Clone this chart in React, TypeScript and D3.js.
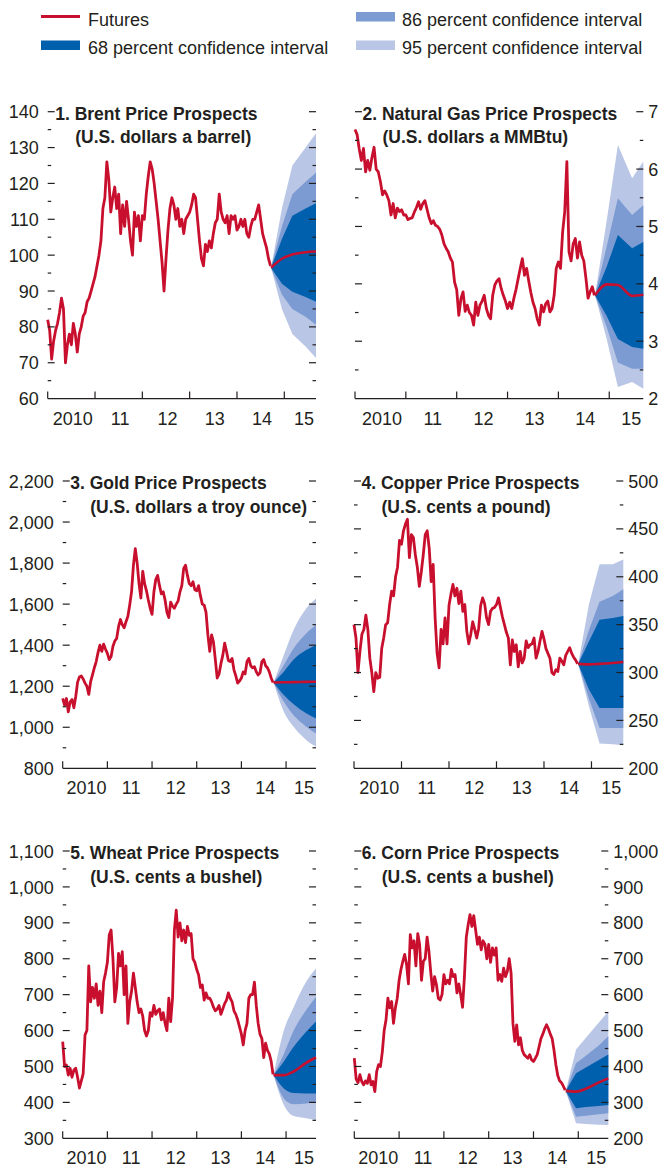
import React from "react";
import * as d3 from "d3";

// ---------- shared time axis ----------
const T0 = 2010;
const T1 = 2015.67;
const yearTicks = [2010, 2011, 2012, 2013, 2014, 2015];
const yearLabels = ["2010", "11", "12", "13", "14", "15"];
// forecast horizon dates (decimal years)
const fcDates = [2014.72, 2014.95, 2015.17, 2015.45, 2015.67];

// ---------- 1. Brent (semi-monthly from Jan 2010) ----------
const brentHist = [
  82, 79, 71, 76, 79, 81, 84, 88, 85, 70,
  75, 78, 75, 81, 78, 73, 78, 80, 83, 84,
  87, 88, 90, 92, 94, 97, 100, 104, 113, 116,
  126, 121, 112, 116, 119, 113, 117, 106, 114, 108,
  115, 110, 104, 100, 112, 108, 111, 104, 111, 110,
  117, 122, 126, 124, 120, 115, 110, 104, 98, 90,
  99, 107, 113, 116, 114, 110, 113, 108, 110, 106,
  110, 111, 112, 114, 117, 116, 110, 104, 99, 97,
  103, 101, 104, 102, 106, 109, 110, 117, 112, 110,
  109, 111, 106, 111, 110, 111, 107, 108, 110, 108,
  110, 106, 105, 108, 110, 110, 112, 114, 110, 106,
  104, 102, 99, 97,
];
const brentFutures = [96.5, 99, 100.2, 100.8, 101];
const brentBand68 = [[96.5, 96.5], [92, 104.5], [89.8, 111], [88.3, 113], [87, 114.5]];
const brentBand86 = [[96.5, 96.5], [89, 108], [85, 117], [82.8, 120.5], [80.6, 123]];
const brentBand95 = [[96.5, 96.5], [85, 113], [78, 125], [74.5, 130], [71.3, 134]];

// ---------- 2. Natural gas ----------
const gasHist = [
  6.69, 6.6, 6.35, 6.15, 6.36, 5.95, 6.15, 5.98, 6.2, 6.38,
  6.0, 5.95, 5.78, 5.55, 5.62, 5.55, 5.45, 5.2, 5.4, 5.15,
  5.32, 5.26, 5.29, 5.2, 5.2, 5.12, 5.14, 5.15, 5.25, 5.33,
  5.43, 5.3, 5.4, 5.45, 5.3, 5.15, 5.05, 5.1, 5.02, 5.0,
  4.95, 4.85, 4.7, 4.62, 4.56, 4.45, 4.38, 4.03, 3.9, 3.45,
  3.74, 3.86, 3.52, 3.63, 3.5, 3.45, 3.28, 3.68, 3.45, 3.63,
  3.7, 3.8, 3.57, 3.45, 3.39, 3.8, 3.98, 4.05, 4.09, 3.92,
  3.8, 3.7, 3.57, 3.68, 3.57, 3.75, 3.9, 4.09, 4.27, 4.44,
  4.15, 4.27, 4.05, 3.85, 3.68, 3.57, 3.39, 3.28, 3.63, 3.51,
  3.65, 3.7, 3.51, 3.57, 3.8, 4.27, 4.38, 4.27, 4.9, 5.26,
  6.13, 4.56, 4.4, 4.7, 4.79, 4.45, 4.73, 4.5, 4.4, 4.1,
  3.75, 3.86, 3.95, 3.8,
];
const gasFutures = [3.8, 3.99, 3.98, 3.79, 3.81];
const gasBand68 = [[3.8, 3.8], [3.44, 4.3], [3.04, 4.85], [2.9, 4.62], [2.87, 4.73]];
const gasBand86 = [[3.8, 3.8], [3.25, 4.65], [2.63, 5.49], [2.52, 5.2], [2.52, 5.37]];
const gasBand95 = [[3.8, 3.8], [3.04, 5.1], [2.2, 6.42], [2.29, 5.84], [2.17, 6.13]];

// ---------- 3. Gold ----------
const goldHist = [
  1141, 1108, 1140, 1075, 1124, 1135, 1095, 1150, 1220, 1245,
  1250, 1235, 1215, 1200, 1160, 1222, 1255, 1290, 1320, 1365,
  1400, 1370, 1405, 1380, 1360, 1330, 1345, 1395, 1420, 1433,
  1490, 1525, 1500, 1485, 1514, 1540, 1596, 1661, 1790, 1870,
  1800, 1700, 1630, 1760, 1700, 1665, 1620, 1580, 1550, 1660,
  1720, 1740, 1690, 1650, 1660, 1620, 1560, 1535, 1610, 1590,
  1580, 1600, 1615, 1660, 1690, 1774, 1790, 1740, 1700, 1690,
  1709, 1670, 1665, 1690, 1640, 1600, 1595, 1560, 1450, 1370,
  1450, 1415, 1330, 1240, 1260, 1310, 1350, 1410, 1370, 1325,
  1320, 1335, 1280, 1250, 1215, 1225, 1240, 1270, 1260, 1320,
  1335, 1300, 1290, 1295, 1270, 1255, 1265, 1320, 1330, 1300,
  1290, 1270, 1240, 1218,
];
const goldFutures = [1218, 1219, 1220, 1221, 1222];
const goldBand68 = [[1218, 1218], [1157, 1271], [1112, 1330], [1068, 1376], [1043, 1401]];
const goldBand86 = [[1218, 1218], [1124, 1303], [1058, 1385], [1003, 1457], [970, 1498]];
const goldBand95 = [[1218, 1218], [1076, 1352], [1002, 1475], [938, 1579], [905, 1628]];

// ---------- 4. Copper ----------
const copperHist = [
  350, 336, 300, 322, 340, 345, 360, 345, 315, 300,
  280, 300, 294, 295, 325, 336, 350, 352, 371, 385,
  380, 400, 410, 438, 434, 448, 455, 460, 420, 444,
  441, 423, 410, 390, 405, 423, 444, 448, 430, 395,
  413, 357, 320, 305, 345, 330, 357, 330, 370, 382,
  392, 380, 388, 372, 385, 364, 371, 343, 330, 340,
  353, 345, 336, 346, 370, 378, 372, 357, 350, 364,
  367, 368, 371, 378, 368, 358, 350, 342, 336, 308,
  334, 322, 329, 306, 322, 310, 315, 333, 326, 329,
  330, 336, 315, 322, 333, 343, 335, 325, 320, 315,
  300, 298, 303, 301, 315, 312, 308, 318, 322, 326,
  320, 316, 313, 309,
];
const copperFutures = [309, 308.5, 309, 310, 311];
const copperBand68 = [[309, 309], [282, 333], [263, 355], [263, 357], [263, 359]];
const copperBand86 = [[309, 309], [272, 345], [242, 374], [242, 380], [242, 387]];
const copperBand95 = [[309, 309], [264, 372], [226, 413], [225, 413], [224, 418]];

// ---------- 5. Wheat ----------
const wheatHist = [
  569, 500, 504, 476, 495, 470, 490, 495, 470, 440,
  460, 480, 588, 600, 780, 680, 720, 690, 730, 670,
  710, 650, 736, 760, 790, 866, 880, 800, 680, 720,
  815, 780, 820, 700, 780, 620, 680, 710, 760, 720,
  680, 650, 660, 640, 600, 585, 600, 650, 640, 670,
  645, 655, 660, 630, 650, 620, 600, 690, 625, 690,
  880, 935, 860, 900, 850, 880, 845, 890, 865, 870,
  800, 790, 770, 755, 720, 727, 685, 705, 690, 690,
  680, 665, 655, 660, 670, 645, 660, 675, 685, 705,
  690, 680, 655, 645, 630, 610, 590, 560, 600, 620,
  690, 700, 700, 735, 670, 620, 590, 578, 525, 565,
  545, 535, 514, 478,
];
const wheatFutures = [476, 476, 486, 510, 525];
const wheatBand68 = [[476, 476], [439, 514], [426, 555], [425, 597], [425, 625]];
const wheatBand86 = [[476, 476], [411, 535], [395, 600], [397, 657], [402, 694]];
const wheatBand95 = [[476, 476], [393, 600], [362, 665], [356, 736], [351, 773]];

// ---------- 6. Corn ----------
const cornHist = [
  423, 365, 355, 377, 358, 349, 360, 353, 377, 349,
  358, 330, 386, 405, 400, 440, 500, 530, 590, 563,
  581, 520, 563, 590, 640, 670, 693, 712, 684, 630,
  767, 730, 750, 680, 770, 740, 640, 693, 700, 760,
  720, 660, 610, 650, 628, 590, 585, 600, 656, 630,
  640, 630, 670, 650, 656, 605, 630, 600, 565, 650,
  760, 795, 823, 790, 820, 780, 740, 760, 725, 750,
  740, 700, 740, 690, 730, 710, 730, 640, 656, 637,
  674, 650, 665, 700, 660, 520, 470, 516, 460, 480,
  445, 433, 428, 423, 433, 418, 414, 423, 433, 455,
  478, 490, 505, 516, 505, 490, 478, 445, 405, 375,
  360, 355, 345, 334,
];
const cornFutures = [332, 330, 338, 355, 367];
const cornBand68 = [[332, 332], [284, 381], [287, 397], [290, 417], [293, 433]];
const cornBand86 = [[332, 332], [260, 409], [263, 430], [267, 458], [270, 484]];
const cornBand95 = [[332, 332], [242, 447], [240, 480], [238, 521], [237, 553]];

// ---------- legend ----------
const legendLabels = [
  "Futures",
  "68 percent confidence interval",
  "86 percent confidence interval",
  "95 percent confidence interval",
];

// ---------- styles ----------
const FONT = "'Liberation Sans', Arial, Helvetica, sans-serif";
const INK = "#231f20";
const RED = "#c8102e";
const C68 = "#0060ae";
const C86 = "#7b9bd2";
const C95 = "#b9c6e6";

type PanelCfg = {
  title: string;
  unit: string;
  hist: number[];
  fut: number[];
  b68: number[][];
  b86: number[][];
  b95: number[][];
  domain: [number, number];
  step: number;
  side: "left" | "right";
  x0: number;
  x1: number;
  yTop: number;
  yBot: number;
  smooth: boolean;
};

const ROW1 = [111.7, 398.6];
const ROW2 = [481, 768.3];
const ROW3 = [851, 1138.3];

const panels: PanelCfg[] = [
  { title: "1. Brent Price Prospects", unit: "(U.S. dollars a barrel)", hist: brentHist, fut: brentFutures,
    b68: brentBand68, b86: brentBand86, b95: brentBand95, domain: [60, 140], step: 10, side: "left",
    x0: 47.7, x1: 316, yTop: ROW1[0], yBot: ROW1[1], smooth: false },
  { title: "2. Natural Gas Price Prospects", unit: "(U.S. dollars a MMBtu)", hist: gasHist, fut: gasFutures,
    b68: gasBand68, b86: gasBand86, b95: gasBand95, domain: [2, 7], step: 1, side: "right",
    x0: 355, x1: 643.3, yTop: ROW1[0], yBot: ROW1[1], smooth: false },
  { title: "3. Gold Price Prospects", unit: "(U.S. dollars a troy ounce)", hist: goldHist, fut: goldFutures,
    b68: goldBand68, b86: goldBand86, b95: goldBand95, domain: [800, 2200], step: 200, side: "left",
    x0: 62.7, x1: 316, yTop: ROW2[0], yBot: ROW2[1], smooth: true },
  { title: "4. Copper Price Prospects", unit: "(U.S. cents a pound)", hist: copperHist, fut: copperFutures,
    b68: copperBand68, b86: copperBand86, b95: copperBand95, domain: [200, 500], step: 50, side: "right",
    x0: 354, x1: 623.3, yTop: ROW2[0], yBot: ROW2[1], smooth: false },
  { title: "5. Wheat Price Prospects", unit: "(U.S. cents a bushel)", hist: wheatHist, fut: wheatFutures,
    b68: wheatBand68, b86: wheatBand86, b95: wheatBand95, domain: [300, 1100], step: 100, side: "left",
    x0: 62.7, x1: 316, yTop: ROW3[0], yBot: ROW3[1], smooth: true },
  { title: "6. Corn Price Prospects", unit: "(U.S. cents a bushel)", hist: cornHist, fut: cornFutures,
    b68: cornBand68, b86: cornBand86, b95: cornBand95, domain: [200, 1000], step: 100, side: "right",
    x0: 354.3, x1: 608.3, yTop: ROW3[0], yBot: ROW3[1], smooth: false },
];

const fmt = d3.format(",");

function Panel({ p }: { p: PanelCfg }) {
  const x = d3.scaleLinear().domain([T0, T1]).range([p.x0, p.x1]);
  const y = d3.scaleLinear().domain(p.domain).range([p.yBot, p.yTop]);
  const [lo, hi] = p.domain;
  const majors = d3.range(lo + p.step, hi + p.step / 2, p.step);
  const minors = d3.range(lo + p.step / 2, hi, p.step);
  const curve = p.smooth ? d3.curveMonotoneX : d3.curveLinear;

  const histLine = d3
    .line<number>()
    .x((_, i) => x(T0 + i / 24))
    .y((v) => y(v));
  const band = d3
    .area<number[]>()
    .x((_, i) => x(fcDates[i]))
    .y0((d) => y(d[0]))
    .y1((d) => y(d[1]))
    .curve(curve);
  const futLine = d3
    .line<number>()
    .x((_, i) => x(fcDates[i]))
    .y((v) => y(v))
    .curve(d3.curveMonotoneX);

  const MAJ = 7;
  const MIN = 3.5;
  const labelX = p.side === "left" ? p.x0 - 9 : p.x1 + 5;
  const anchor = p.side === "left" ? "end" : "start";

  return (
    <g>
      {/* fan chart */}
      <path d={band(p.b95) || ""} fill={C95} />
      <path d={band(p.b86) || ""} fill={C86} />
      <path d={band(p.b68) || ""} fill={C68} />
      {/* history */}
      <path d={histLine(p.hist) || ""} fill="none" stroke={RED} strokeWidth={2.8} strokeLinejoin="round" />
      <path d={futLine(p.fut) || ""} fill="none" stroke={RED} strokeWidth={2.6} />

      {/* y ticks both sides */}
      {majors.map((v) => (
        <g key={"M" + v}>
          <line x1={p.x0} x2={p.x0 + MAJ} y1={y(v)} y2={y(v)} stroke={INK} strokeWidth={1.2} />
          <line x1={p.x1 - MAJ} x2={p.x1} y1={y(v)} y2={y(v)} stroke={INK} strokeWidth={1.2} />
        </g>
      ))}
      {minors.map((v) => (
        <g key={"m" + v}>
          <line x1={p.x0} x2={p.x0 + MIN} y1={y(v)} y2={y(v)} stroke={INK} strokeWidth={1.2} />
          <line x1={p.x1 - MIN} x2={p.x1} y1={y(v)} y2={y(v)} stroke={INK} strokeWidth={1.2} />
        </g>
      ))}
      {/* y labels on outer side */}
      {[lo, ...majors].map((v) => (
        <text key={"l" + v} x={labelX} y={y(v) + 6.6} textAnchor={anchor} fontSize={18} fill={INK}>
          {fmt(v)}
        </text>
      ))}

      {/* x axis */}
      <line x1={p.x0} x2={p.x1} y1={p.yBot} y2={p.yBot} stroke={INK} strokeWidth={1.3} />
      {yearTicks.map((yr, i) => (
        <g key={"y" + yr}>
          <line x1={x(yr)} x2={x(yr)} y1={p.yBot} y2={p.yBot - 7} stroke={INK} strokeWidth={1.2} />
          <text
            x={Math.min(x(yr + 0.5) + 1.5, p.x1 - 12)}
            y={p.yBot + 26}
            textAnchor="middle"
            fontSize={18}
            fill={INK}
          >
            {yearLabels[i]}
          </text>
        </g>
      ))}

      {/* title */}
      <text x={p.x0 + 7.5} y={p.yTop + 8.3} fontSize={17.5} fontWeight="bold" fill={INK}>
        {p.title}
      </text>
      <text x={p.x0 + 27.5} y={p.yTop + 31.5} fontSize={17.5} fontWeight="bold" fill={INK}>
        {p.unit}
      </text>
    </g>
  );
}

function Legend() {
  return (
    <g fontSize={18} fill={INK}>
      <line x1={41} x2={80} y1={16.5} y2={16.5} stroke={RED} strokeWidth={3} />
      <text x={88} y={26}>{legendLabels[0]}</text>
      <rect x={41} y={40.5} width={39} height={9.5} fill={C68} />
      <text x={88} y={53.5}>{legendLabels[1]}</text>
      <rect x={356} y={12} width={39} height={9.5} fill={C86} />
      <text x={402} y={26}>{legendLabels[2]}</text>
      <rect x={356} y={40.5} width={39} height={9.5} fill={C95} />
      <text x={402} y={53.5}>{legendLabels[3]}</text>
    </g>
  );
}

export default function App() {
  return (
    <svg
      width={663}
      height={1172}
      viewBox="0 0 663 1172"
      style={{ position: "absolute", left: 0, top: 0, background: "#fff" }}
      fontFamily={FONT}
    >
      <rect x={0} y={0} width={663} height={1172} fill="#fff" />
      <Legend />
      {panels.map((p) => (
        <Panel key={p.title} p={p} />
      ))}
    </svg>
  );
}
